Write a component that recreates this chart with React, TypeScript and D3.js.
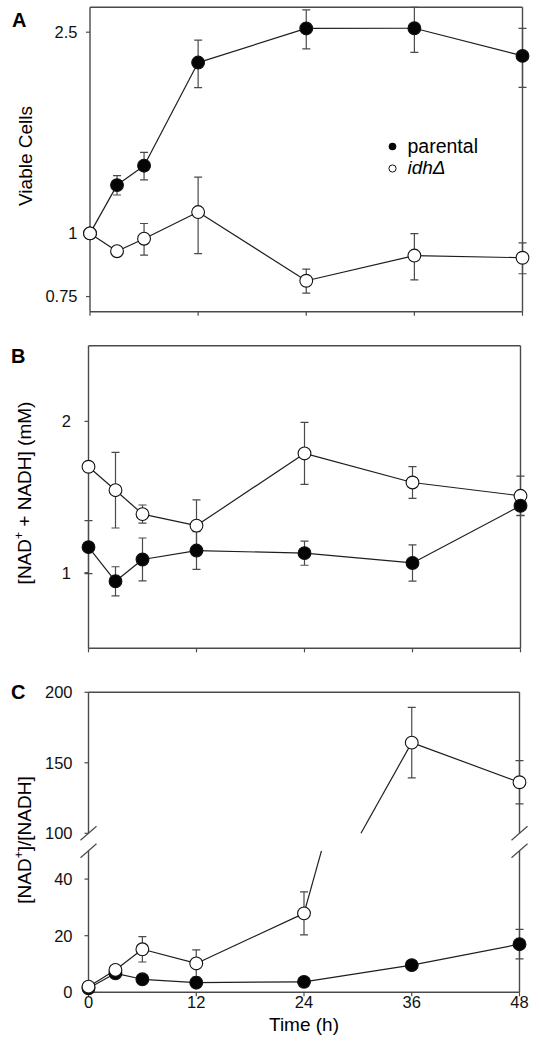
import React from 'react';
import * as d3 from 'd3';

// ---------- DATA ----------
const timePoints = [0, 3, 6, 12, 24, 36, 48];
const xTicks = [0, 12, 24, 36, 48];

const viableParental = [1.0, 1.246, 1.361, 2.177, 2.543, 2.545, 2.244];
const viableParentalErr = [0, 0.055, 0.085, 0.235, 0.225, 0.265, 0.3];
const viableIdh = [1.0, 0.922, 0.976, 1.102, 0.806, 0.904, 0.895];
const viableIdhErr = [0, 0, 0.07, 0.19, 0.044, 0.095, 0.063];
const viableTicks = [0.75, 1, 2.5];

const nadTotalParental = [1.169, 0.943, 1.087, 1.146, 1.129, 1.064, 1.442];
const nadTotalParentalErr = [0.175, 0.096, 0.142, 0.125, 0.08, 0.12, 0.065];
const nadTotalIdh = [1.7, 1.545, 1.387, 1.311, 1.788, 1.596, 1.508];
const nadTotalIdhErr = [0, 0.25, 0.06, 0.17, 0.205, 0.105, 0.13];
const nadTotalTicks = [1, 2];

const ratioParental = [1.4, 6.7, 4.6, 3.4, 3.7, 9.6, 17.0];
const ratioParentalErr = [0, 0, 0, 0, 0, 0, 5.2];
const ratioIdh = [2.0, 7.9, 15.2, 10.2, 27.9, 164.3, 136.2];
const ratioIdhErr = [0, 0, 4.5, 4.8, 7.6, 25, 15.3];
const ratioTicksLow = [0, 20, 40];
const ratioTicksHigh = [100, 150, 200];

const legendLabels = ['parental', 'idhΔ'];

// ---------- STYLE ----------
const FONT = '"Liberation Sans", Arial, Helvetica, sans-serif';
const AXIS = '#4a4a4a';
const LINE = '#1e1e1e';

type Seg = { lo: number; hi: number; scale: (v: number) => number; top: number; bottom: number };
type Series = { values: number[]; err: number[]; filled: boolean };

function seriesSegments(
  xs: number[],
  ys: number[],
  x: (v: number) => number,
  segs: Seg[]
): [number, number][][] {
  const out: [number, number][][] = [];
  for (const seg of segs) {
    for (let i = 0; i < xs.length - 1; i++) {
      const x0 = xs[i], y0 = ys[i], x1 = xs[i + 1], y1 = ys[i + 1];
      let tA = 0, tB = 1;
      if (y1 !== y0) {
        const ta = (seg.lo - y0) / (y1 - y0);
        const tb = (seg.hi - y0) / (y1 - y0);
        tA = Math.max(0, Math.min(ta, tb));
        tB = Math.min(1, Math.max(ta, tb));
      } else if (y0 < seg.lo || y0 > seg.hi) {
        tA = 1; tB = 0;
      }
      if (tA < tB) {
        const p0: [number, number] = [x(x0 + (x1 - x0) * tA), seg.scale(y0 + (y1 - y0) * tA)];
        const p1: [number, number] = [x(x0 + (x1 - x0) * tB), seg.scale(y0 + (y1 - y0) * tB)];
        out.push([p0, p1]);
      }
    }
  }
  return out;
}

function findSeg(v: number, segs: Seg[]): Seg {
  for (const s of segs) if (v >= s.lo && v <= s.hi) return s;
  return segs[0];
}

const lineGen = d3.line<[number, number]>();

function Panel(props: {
  left: number; right: number; top: number; bottom: number;
  segs: Seg[];
  series: Series[];
  yTicks: { v: number; label: string }[];
  labelRight: number;
  showXLabels: boolean;
  breakY?: number[];
}) {
  const { left, right, top, bottom, segs, series, yTicks, labelRight, showXLabels, breakY } = props;
  const x = d3.scaleLinear().domain([0, 48]).range([left, right]);
  const mapY = (v: number) => {
    const s = findSeg(v, segs);
    return s.scale(Math.max(s.lo, Math.min(s.hi, v)));
  };
  const els: React.ReactNode[] = [];

  // frame
  const axisLines: string[] = [];
  axisLines.push(`M${left},${top}H${right}`);
  axisLines.push(`M${left},${bottom}H${right}`);
  if (breakY) {
    axisLines.push(`M${left},${top}V${breakY[0]}M${left},${breakY[1]}V${bottom}`);
    axisLines.push(`M${right},${top}V${breakY[0]}M${right},${breakY[1]}V${bottom}`);
  } else {
    axisLines.push(`M${left},${top}V${bottom}`);
    axisLines.push(`M${right},${top}V${bottom}`);
  }
  els.push(<path key="frame" d={axisLines.join('')} fill="none" stroke={AXIS} strokeWidth={1.4} />);
  if (breakY) {
    for (const bx of [left, right]) {
      breakY.forEach((by, i) => {
        els.push(
          <line key={`brk${bx}-${i}`} x1={bx - 8} y1={by + 7} x2={bx + 8} y2={by - 7} stroke={AXIS} strokeWidth={1.2} />
        );
      });
    }
  }

  // x ticks
  xTicks.forEach((t) => {
    els.push(<line key={`xt${t}`} x1={x(t)} x2={x(t)} y1={bottom} y2={bottom + 4} stroke={AXIS} strokeWidth={1.2} />);
    if (showXLabels) {
      els.push(
        <text key={`xl${t}`} x={x(t)} y={bottom + 16} fontSize={16.5} textAnchor="middle" fontFamily={FONT} fill="#111">
          {t}
        </text>
      );
    }
  });
  // y ticks
  yTicks.forEach((tk) => {
    const yy = mapY(tk.v);
    els.push(<line key={`yt${tk.v}`} x1={left - 4} x2={left} y1={yy} y2={yy} stroke={AXIS} strokeWidth={1.2} />);
    els.push(
      <text key={`yl${tk.v}`} x={labelRight} y={yy} dy="0.36em" fontSize={16.5} textAnchor="end" fontFamily={FONT} fill="#111">
        {tk.label}
      </text>
    );
  });

  // lines
  series.forEach((s, si) => {
    const parts = seriesSegments(timePoints, s.values, x, segs);
    parts.forEach((p, pi) => {
      els.push(<path key={`ln${si}-${pi}`} d={lineGen(p) || ''} fill="none" stroke={LINE} strokeWidth={1.2} />);
    });
  });
  // error bars
  series.forEach((s, si) => {
    s.values.forEach((v, i) => {
      const e = s.err[i];
      if (!e) return;
      const seg = findSeg(v, segs);
      const yHi = Math.max(top, seg.scale(Math.min(seg.hi, v + e)));
      const yLo = Math.min(bottom, seg.scale(Math.max(seg.lo, v - e)));
      const xx = x(timePoints[i]);
      els.push(
        <path
          key={`eb${si}-${i}`}
          d={`M${xx},${yHi}V${yLo}M${xx - 4},${yHi}H${xx + 4}M${xx - 4},${yLo}H${xx + 4}`}
          fill="none"
          stroke={AXIS}
          strokeWidth={1.2}
        />
      );
    });
  });
  // markers
  series.forEach((s, si) => {
    s.values.forEach((v, i) => {
      els.push(
        <circle
          key={`mk${si}-${i}`}
          cx={x(timePoints[i])}
          cy={mapY(v)}
          r={6.4}
          fill={s.filled ? '#050505' : '#ffffff'}
          stroke="#111"
          strokeWidth={1.1}
        />
      );
    });
  });
  return <g>{els}</g>;
}

export default function App() {
  const yA = d3.scaleLog().domain([0.7, 2.8]).range([311.7, 7.3]);
  const yB = d3.scaleLinear().domain([0.5, 2.5]).range([648.3, 345.7]);
  const yCLow = d3.scaleLinear().domain([0, 50]).range([992.3, 850.8]);
  const yCHigh = d3.scaleLinear().domain([100, 200]).range([833.3, 692.3]);

  const segA: Seg[] = [{ lo: 0.7, hi: 2.8, scale: yA, top: 7.3, bottom: 311.7 }];
  const segB: Seg[] = [{ lo: 0.5, hi: 2.5, scale: yB, top: 345.7, bottom: 648.3 }];
  const segC: Seg[] = [
    { lo: 0, hi: 50, scale: yCLow, top: 850.8, bottom: 992.3 },
    { lo: 100, hi: 200, scale: yCHigh, top: 692.3, bottom: 833.3 },
  ];

  const sup = (
    <tspan fontSize={12} dy={-8}>
      +
    </tspan>
  );

  return (
    <svg
      width={539}
      height={1050}
      viewBox="0 0 539 1050"
      style={{ position: 'absolute', left: 0, top: 0, background: '#fff' }}
      fontFamily={FONT}
    >
      <rect x={0} y={0} width={539} height={1050} fill="#fff" />
      {/* Panel A */}
      <Panel
        left={90}
        right={522.5}
        top={7.3}
        bottom={311.7}
        segs={segA}
        series={[
          { values: viableParental, err: viableParentalErr, filled: true },
          { values: viableIdh, err: viableIdhErr, filled: false },
        ]}
        yTicks={viableTicks.map((v) => ({ v, label: String(v) }))}
        labelRight={77.5}
        showXLabels={false}
      />
      {/* Panel B */}
      <Panel
        left={88.5}
        right={520.5}
        top={345.7}
        bottom={648.3}
        segs={segB}
        series={[
          { values: nadTotalIdh, err: nadTotalIdhErr, filled: false },
          { values: nadTotalParental, err: nadTotalParentalErr, filled: true },
        ]}
        yTicks={nadTotalTicks.map((v) => ({ v, label: String(v) }))}
        labelRight={71}
        showXLabels={false}
      />
      {/* Panel C */}
      <Panel
        left={88.5}
        right={519.5}
        top={692.3}
        bottom={992.3}
        segs={segC}
        series={[
          { values: ratioParental, err: ratioParentalErr, filled: true },
          { values: ratioIdh, err: ratioIdhErr, filled: false },
        ]}
        yTicks={[...ratioTicksLow, ...ratioTicksHigh].map((v) => ({ v, label: String(v) }))}
        labelRight={72.5}
        showXLabels={true}
        breakY={[833.3, 850.8]}
      />

      {/* panel letters */}
      <text x={12} y={26.7} fontSize={20} fontWeight="bold">A</text>
      <text x={11} y={363} fontSize={20} fontWeight="bold">B</text>
      <text x={11} y={699} fontSize={20} fontWeight="bold">C</text>

      {/* axis titles */}
      <text transform="translate(31.5,156) rotate(-90)" textAnchor="middle" fontSize={19}>
        Viable Cells
      </text>
      <text transform="translate(31,493) rotate(-90)" textAnchor="middle" fontSize={19}>
        [NAD{sup}
        <tspan dy={8}> + NADH] (mM)</tspan>
      </text>
      <text transform="translate(31,840) rotate(-90)" textAnchor="middle" fontSize={19}>
        [NAD{sup}
        <tspan dy={8}>]/[NADH]</tspan>
      </text>
      <text x={304} y={1031} textAnchor="middle" fontSize={19}>
        Time (h)
      </text>

      {/* legend */}
      <circle cx={392.5} cy={146.5} r={3.8} fill="#050505" />
      <text x={407.5} y={152.5} fontSize={19.5}>
        {legendLabels[0]}
      </text>
      <circle cx={392.5} cy={168.5} r={3.6} fill="#fff" stroke="#111" strokeWidth={1} />
      <text x={407.5} y={173.5} fontSize={19} fontStyle="italic">
        {legendLabels[1]}
      </text>
    </svg>
  );
}
